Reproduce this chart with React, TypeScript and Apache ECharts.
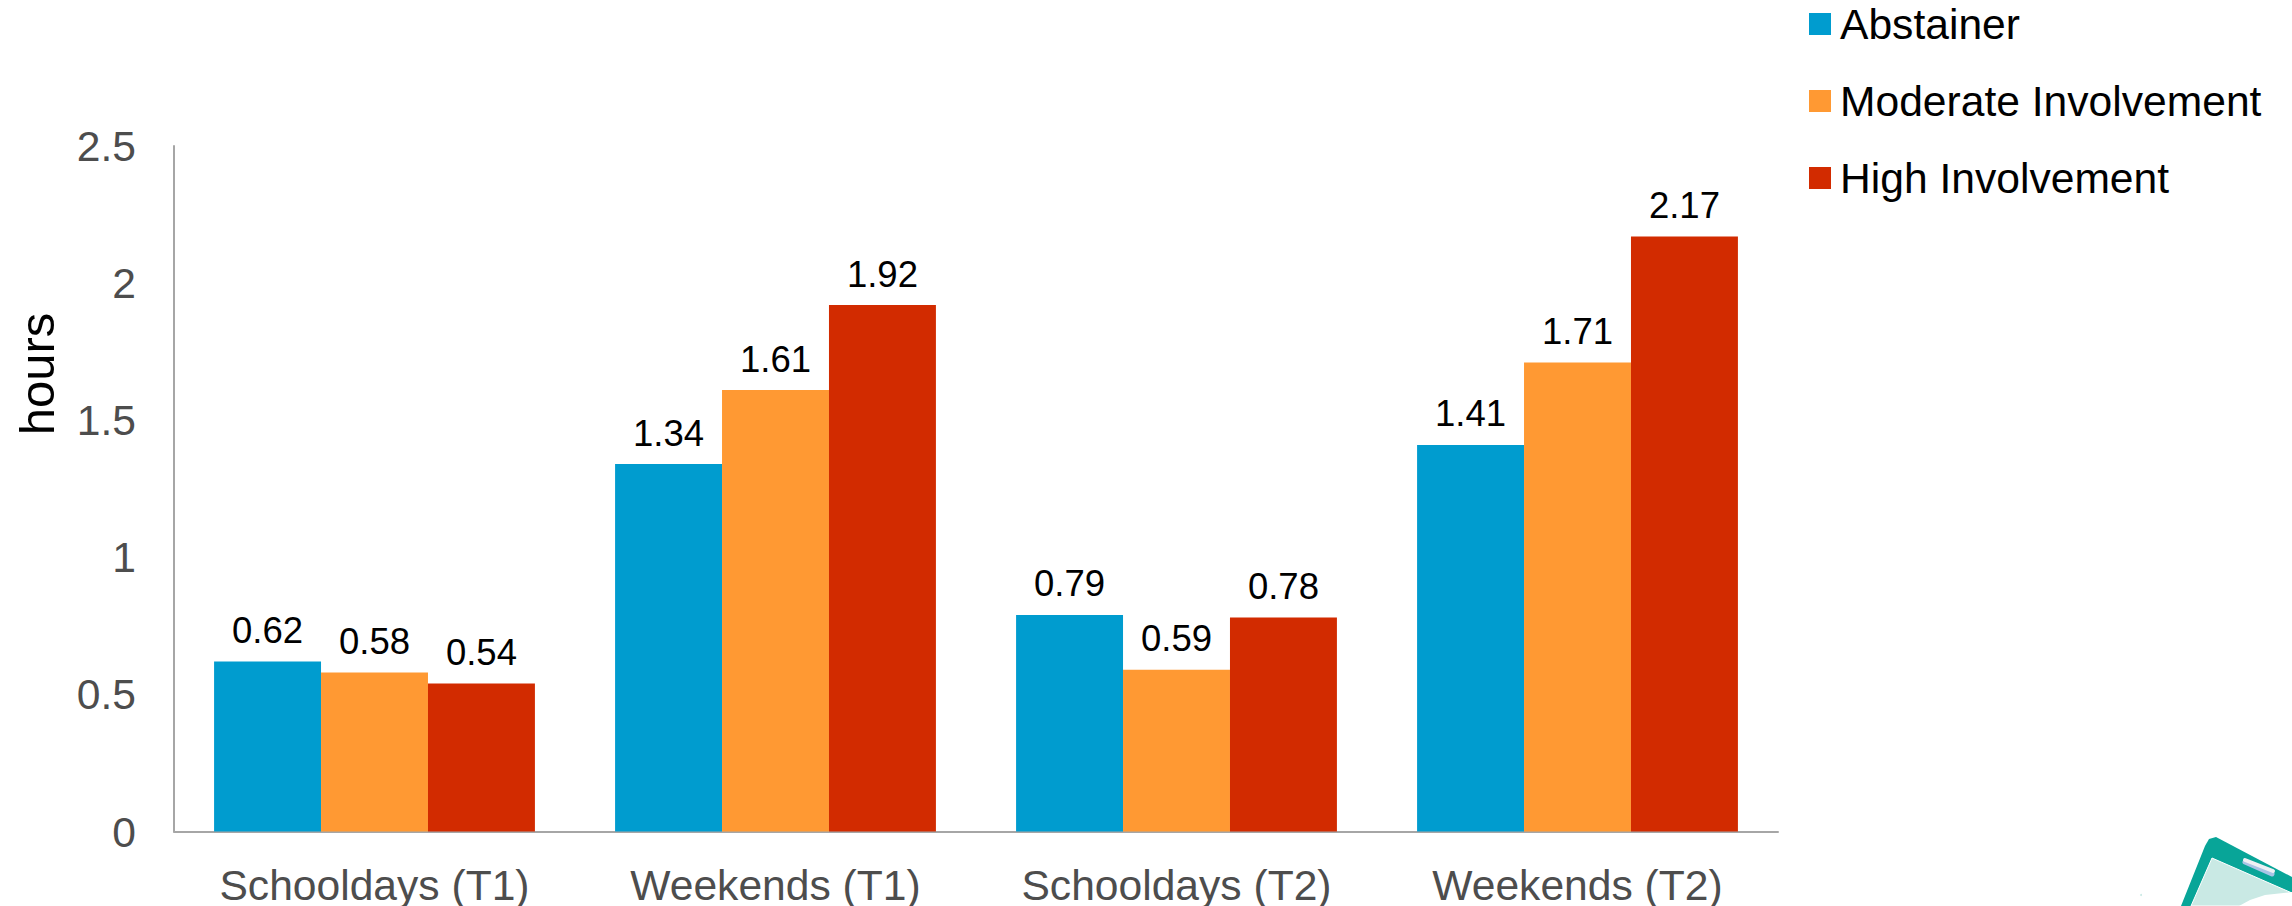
import React, { useEffect, useRef } from "react";
import * as echarts from "echarts";

const categories = ["Schooldays (T1)", "Weekends (T1)", "Schooldays (T2)", "Weekends (T2)"];
const abstainer = [0.62, 1.34, 0.79, 1.41];
const moderate = [0.58, 1.61, 0.59, 1.71];
const high = [0.54, 1.92, 0.78, 2.17];
const yTickLabels = ["0", "0.5", "1", "1.5", "2", "2.5"];

const FONT = '"Liberation Sans", Arial, sans-serif';

const barSeries = (name: string, data: number[], color: string) => ({
  name,
  type: "bar",
  data,
  barWidth: "26.67%",
  barGap: "0%",
  itemStyle: { color },
  label: {
    show: true,
    position: "top",
    distance: 12.5,
    color: "#000000",
    fontFamily: FONT,
    fontSize: 36.5,
    formatter: (p: { value: number }) => p.value.toFixed(2),
  },
});

export default function App() {
  const ref = useRef<HTMLDivElement>(null);

  useEffect(() => {
    const chart = echarts.init(ref.current!, undefined, { renderer: "svg" });
    chart.setOption({
      animation: false,
      backgroundColor: "#ffffff",
      textStyle: { fontFamily: FONT },
      legend: {
        orient: "vertical",
        left: 1804,
        top: -2.5,
        itemWidth: 22,
        itemHeight: 22,
        itemGap: 34,
        icon: "rect",
        data: ["Abstainer", "Moderate Involvement", "High Involvement"],
        textStyle: { color: "#000000", fontFamily: FONT, fontSize: 42.6, padding: [0, 0, 0, 4] },
      },
      grid: { left: 174, top: 146, width: 1604, height: 686, containLabel: false },
      xAxis: {
        type: "category",
        data: categories,
        axisTick: { show: false },
        axisLine: { lineStyle: { color: "#a6a6a6", width: 2 } },
        axisLabel: { color: "#4d4d4d", fontFamily: FONT, fontSize: 42.6, lineHeight: 40, margin: 33, interval: 0, hideOverlap: false },
      },
      yAxis: {
        type: "value",
        min: 0,
        max: 2.5,
        interval: 0.5,
        splitLine: { show: false },
        axisTick: { show: false },
        axisLine: { show: true, lineStyle: { color: "#a6a6a6", width: 2 } },
        axisLabel: {
          color: "#4d4d4d",
          fontFamily: FONT,
          fontSize: 42.6,
          margin: 38,
          formatter: (v: number) => yTickLabels[Math.round(v / 0.5)],
        },
      },
      series: [
        barSeries("Abstainer", abstainer, "#009ccf"),
        barSeries("Moderate Involvement", moderate, "#ff9933"),
        barSeries("High Involvement", high, "#d22b00"),
      ],
      graphic: [
        // Value axis title
        {
          type: "text",
          x: 37,
          y: 374,
          rotation: Math.PI / 2,
          style: {
            text: "hours",
            fill: "#000000",
            font: `49px ${FONT}`,
            textAlign: "center",
            textVerticalAlign: "middle",
          },
        },
        // Clipboard ornament in the lower right corner
        { type: "polygon", shape: { points: [[2205, 846], [2209, 839], [2216, 837], [2292, 877], [2292, 906], [2181, 906]] }, style: { fill: "#08a598" } },
        { type: "polygon", shape: { points: [[2212, 858], [2292, 893], [2292, 906], [2191, 906]] }, style: { fill: "#c9e9e4", stroke: "#ffffff", lineWidth: 1 } },
        { type: "polygon", shape: { points: [[2239, 906], [2250, 900], [2265, 895], [2292, 892], [2292, 906]] }, style: { fill: "#ffffff" } },
        { type: "line", shape: { x1: 2245, y1: 862, x2: 2272, y2: 874 }, style: { stroke: "#a9c4e6", lineWidth: 5, lineCap: "round" } },
        { type: "line", shape: { x1: 2245, y1: 860, x2: 2273, y2: 871 }, style: { stroke: "#eef0f4", lineWidth: 4, lineCap: "round" } },
        { type: "circle", shape: { cx: 2141, cy: 895, r: 1 }, style: { fill: "#c9e9e4" } },
      ],
    });
    return () => chart.dispose();
  }, []);

  return <div ref={ref} style={{ position: "fixed", left: 0, top: 0, width: 2292, height: 906 }} />;
}
